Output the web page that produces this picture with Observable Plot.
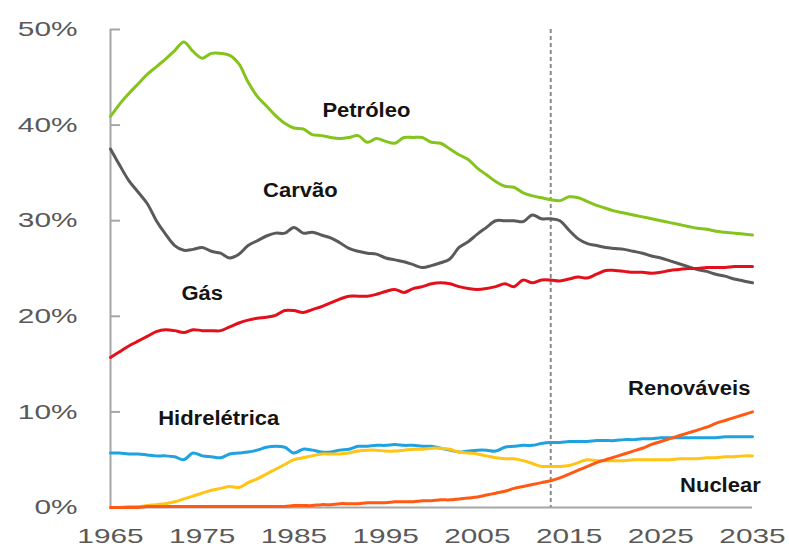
<!DOCTYPE html>
<html>
<head>
<meta charset="utf-8">
<script src="https://cdn.jsdelivr.net/npm/d3@7"></script>
<script src="https://cdn.jsdelivr.net/npm/@observablehq/plot@0.6"></script>
<style>
  html, body { margin: 0; padding: 0; background: #fff; }
  #chart svg { display: block; }
</style>
</head>
<body>
<div id="chart"></div>
<script>
// ---------- DATA (share of primary energy, %) ----------
const firstYear = 1965;
const lastYear = 2035;
const baseYear = 2013; // dashed separator: history | projection

const petroleo = [40.9,42.2,43.3,44.3,45.3,46.1,46.9,47.8,48.7,47.7,
  47.0,47.5,47.5,47.3,46.4,44.5,43.0,42.0,41.0,40.2,
  39.7,39.6,39.0,38.9,38.7,38.6,38.7,38.9,38.2,38.6,
  38.3,38.1,38.7,38.7,38.7,38.2,38.1,37.5,36.9,36.4,
  35.5,34.8,34.1,33.6,33.5,32.9,32.6,32.4,32.2,32.1,
  32.5,32.4,32.0,31.6,31.3,31.0,30.8,30.6,30.4,30.2,
  30.0,29.8,29.6,29.4,29.2,29.1,28.9,28.8,28.7,28.6,28.5];

const carvao = [37.5,35.8,34.2,33.0,31.8,30.0,28.6,27.4,26.9,27.0,
  27.2,26.8,26.6,26.1,26.5,27.4,27.9,28.4,28.7,28.7,
  29.3,28.7,28.8,28.5,28.2,27.7,27.1,26.8,26.6,26.5,
  26.1,25.9,25.7,25.4,25.1,25.3,25.6,26.0,27.2,27.8,
  28.6,29.3,30.0,30.0,30.0,29.9,30.6,30.2,30.2,30.0,
  29.0,28.1,27.6,27.4,27.2,27.1,27.0,26.8,26.6,26.3,
  26.1,25.8,25.5,25.2,24.9,24.7,24.4,24.2,23.9,23.7,23.5];

const gas = [15.7,16.3,16.9,17.4,17.9,18.4,18.6,18.5,18.3,18.6,
  18.5,18.5,18.5,18.9,19.3,19.6,19.8,19.9,20.1,20.6,
  20.6,20.4,20.7,21.0,21.4,21.8,22.1,22.1,22.1,22.3,
  22.6,22.8,22.5,22.9,23.1,23.4,23.5,23.4,23.1,22.9,
  22.8,22.9,23.1,23.4,23.1,23.8,23.5,23.8,23.8,23.7,
  23.9,24.1,24.0,24.4,24.8,24.8,24.7,24.6,24.6,24.5,
  24.6,24.8,24.9,25.0,25.0,25.1,25.1,25.1,25.2,25.2,25.2];

const hidreletrica = [5.7,5.7,5.6,5.6,5.5,5.4,5.4,5.3,5.0,5.7,
  5.4,5.3,5.2,5.6,5.7,5.8,6.0,6.3,6.4,6.3,
  5.7,6.1,6.0,5.8,5.8,6.0,6.1,6.4,6.4,6.5,
  6.5,6.6,6.5,6.5,6.4,6.4,6.2,6.0,5.8,5.9,
  6.0,6.0,5.9,6.3,6.4,6.5,6.5,6.7,6.8,6.8,
  6.9,6.9,6.9,7.0,7.0,7.0,7.1,7.1,7.2,7.2,
  7.3,7.3,7.3,7.3,7.3,7.3,7.3,7.4,7.4,7.4,7.4];

const nuclear = [0.0,0.0,0.1,0.1,0.2,0.3,0.4,0.6,0.9,1.2,
  1.5,1.8,2.0,2.2,2.1,2.6,3.0,3.5,4.0,4.5,
  5.0,5.2,5.4,5.6,5.6,5.6,5.7,5.9,6.0,6.0,
  5.9,5.9,6.0,6.1,6.1,6.2,6.2,6.1,5.8,5.7,
  5.6,5.4,5.2,5.1,5.1,4.9,4.6,4.3,4.3,4.3,
  4.4,4.7,5.0,4.9,4.9,4.9,4.9,5.0,5.0,5.0,
  5.0,5.0,5.1,5.1,5.1,5.2,5.2,5.3,5.3,5.4,5.4];

const renovaveis = [0.0,0.0,0.0,0.0,0.1,0.1,0.1,0.1,0.1,0.1,
  0.1,0.1,0.1,0.1,0.1,0.1,0.1,0.1,0.1,0.1,
  0.2,0.2,0.2,0.3,0.3,0.4,0.4,0.4,0.5,0.5,
  0.5,0.6,0.6,0.6,0.7,0.7,0.8,0.8,0.9,1.0,
  1.1,1.3,1.5,1.7,2.0,2.2,2.4,2.6,2.8,3.1,
  3.5,3.9,4.3,4.7,5.0,5.3,5.6,5.9,6.2,6.6,
  6.9,7.2,7.5,7.8,8.1,8.4,8.8,9.1,9.4,9.7,10.0];

const seriesNames = ["Petróleo", "Carvão", "Gás", "Hidrelétrica", "Nuclear", "Renováveis"];
const seriesValues = [petroleo, carvao, gas, hidreletrica, nuclear, renovaveis];
const seriesColors = ["#84c41c", "#5a5a5a", "#e3101c", "#1ea2e0", "#ffc414", "#ff5a14"];

const xTicks = [1965, 1975, 1985, 1995, 2005, 2015, 2025, 2035];
const yTicks = [0, 10, 20, 30, 40, 50];

// series label anchors (data coordinates)
const labelNames = ["Petróleo", "Carvão", "Gás", "Hidrelétrica", "Renováveis", "Nuclear"];
const labelYears = [1992.9, 1985.7, 1975.0, 1976.8, 2028.1, 2031.5];
const labelValues = [41.5, 33.1, 22.4, 9.3, 12.4, 2.3];

// ---------- build tables ----------
const years = d3.range(firstYear, lastYear + 1);
const rows = [];
seriesNames.forEach((name, s) => {
  seriesValues[s].forEach((v, i) => rows.push({serie: name, year: years[i], value: v}));
});
const labelRows = labelNames.map((n, i) => ({name: n, year: labelYears[i], value: labelValues[i]}));

const axisGray = "#a6a6a6";
const textGray = "#595959";

const chart = Plot.plot({
  width: 789,
  height: 547,
  marginLeft: 110,
  marginRight: 37,
  marginTop: 29,
  marginBottom: 40,
  style: {fontFamily: "'Liberation Sans', Arial, sans-serif", background: "#fff"},
  x: {domain: [firstYear, lastYear]},
  y: {domain: [0, 50]},
  color: {domain: seriesNames, range: seriesColors},
  marks: [
    Plot.ruleX([firstYear], {stroke: axisGray, strokeWidth: 2}),
    Plot.ruleY([0], {stroke: axisGray, strokeWidth: 2}),
    Plot.axisY({ticks: yTicks, fill: "none", stroke: axisGray, strokeWidth: 2, tickSize: 10, dx: 10, label: null}),
    Plot.ruleX([baseYear], {stroke: "#8a8a8a", strokeWidth: 2, strokeDasharray: "4,3"}),
    Plot.line(rows, {x: "year", y: "value", z: "serie", stroke: "serie", strokeWidth: 3, curve: "catmull-rom", strokeLinejoin: "round", strokeLinecap: "round"}),
    Plot.axisX({ticks: xTicks, tickFormat: d => String(d), tickSize: 0, tickPadding: 21, fontSize: 21, fill: textGray, label: null}),
    Plot.axisY({ticks: yTicks, tickFormat: d => d + "%", tickSize: 0, tickPadding: 33, fontSize: 21, fill: textGray, label: null}),
    Plot.text(labelRows, {x: "year", y: "value", text: "name", fontSize: 20, fontWeight: "bold", fill: "#141414"})
  ]
});

document.getElementById("chart").append(chart);

// widen glyphs to match the reference's stretched lettering
function stretch(selector, factor) {
  chart.querySelectorAll(selector).forEach(t => {
    const L = t.getComputedTextLength();
    t.setAttribute("textLength", (L * factor).toFixed(1));
    t.setAttribute("lengthAdjust", "spacingAndGlyphs");
  });
}
stretch('g[aria-label="x-axis tick label"] text, g[aria-label="y-axis tick label"] text', 1.42);
stretch('g[aria-label="text"] text', 1.1);
</script>
</body>
</html>
